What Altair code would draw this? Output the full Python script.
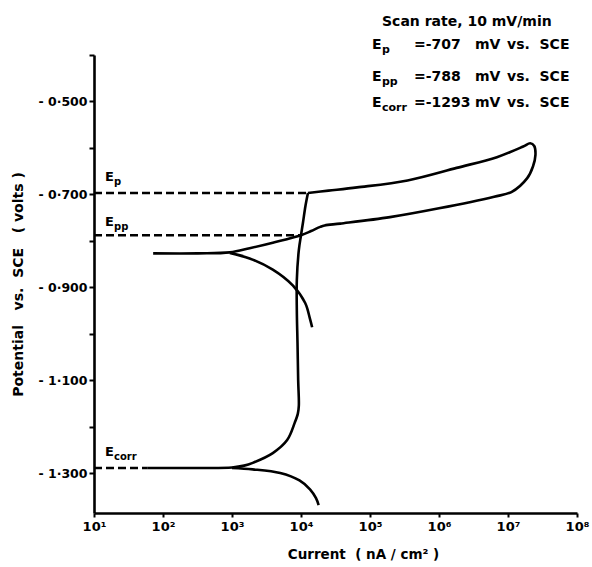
import altair as alt
import pandas as pd

FONT = "DejaVu Sans"
NB = "\u00a0"

# main curve, part 1: Ecorr -> passive region -> Ep corner
rise_current = [5.9e1, 3.2e2, 1.0e3, 1.5e3, 2.0e3, 3.9e3, 6.3e3, 8.1e3, 9.0e3, 9.3e3,
                9.1e3, 8.9e3, 8.7e3, 8.7e3, 9.3e3, 1.0e4, 1.07e4, 1.16e4, 1.26e4]
rise_potential = [-1.289, -1.289, -1.288, -1.284, -1.278, -1.257, -1.229, -1.192, -1.172, -1.155,
                  -1.100, -1.020, -0.950, -0.885, -0.820, -0.788, -0.760, -0.725, -0.697]

# main curve, part 2: Ep corner -> reversal -> Epp -> back to low current
loop_current = [1.26e4, 2.5e4, 6.5e4, 3.5e5, 1.8e6, 6.9e6, 1.66e7, 2.1e7, 2.4e7,
                2.5e7, 2.3e7, 1.9e7, 1.12e7, 6.3e6, 1.0e6, 1.95e5, 3.7e4,
                2.2e4, 1.9e4, 1.4e4, 1.0e4, 3.9e3, 1.8e3, 9.3e2, 3.2e2, 7.2e1]
loop_potential = [-0.697, -0.692, -0.685, -0.670, -0.643, -0.620, -0.597, -0.590, -0.596,
                  -0.615, -0.640, -0.665, -0.695, -0.705, -0.730, -0.749, -0.763,
                  -0.767, -0.770, -0.779, -0.788, -0.804, -0.816, -0.825, -0.827, -0.827]

# cathodic branch below the Epp region
upper_cath_current = [9.3e2, 1.8e3, 3.9e3, 7.6e3, 1.15e4, 1.35e4, 1.45e4]
upper_cath_potential = [-0.826, -0.838, -0.862, -0.896, -0.934, -0.968, -0.986]

# cathodic branch below Ecorr
lower_cath_current = [1.0e3, 2.0e3, 5.0e3, 9.5e3, 1.35e4, 1.65e4, 1.8e4]
lower_cath_potential = [-1.289, -1.292, -1.300, -1.316, -1.335, -1.354, -1.369]

# dashed reference levels (as drawn)
level_names = ["Ep", "Epp", "Ecorr"]
level_potential = [-0.697, -0.788, -1.289]
level_end_current = [1.26e4, 1.0e4, 5.9e1]
axis_start_current = 1.0e1

x_ticks = [1e1, 1e2, 1e3, 1e4, 1e5, 1e6, 1e7, 1e8]
y_ticks = [-0.4, -0.5, -0.6, -0.7, -0.8, -0.9, -1.0, -1.1, -1.2, -1.3]


def seg(cur, pot, name):
    return pd.DataFrame({"current": cur, "potential": pot, "curve": name,
                         "order": range(len(cur))})


curves = pd.concat([
    seg(rise_current, rise_potential, "rise"),
    seg(loop_current, loop_potential, "loop"),
    seg(upper_cath_current, upper_cath_potential, "upper"),
    seg(lower_cath_current, lower_cath_potential, "lower"),
])

levels = pd.DataFrame({"name": level_names, "potential": level_potential,
                       "x0": axis_start_current, "x1": level_end_current})

xscale = alt.Scale(type="log", domain=[1e1, 1e8])
yscale = alt.Scale(domain=[-1.386, -0.4])

x_axis = alt.Axis(values=x_ticks, title="Current" + NB + NB + "( nA / cm² )",
                  labelExpr="'10' + ['⁰','¹','²','³','⁴','⁵','⁶','⁷','⁸'][round(log(datum.value)/LN10)]",
                  labelFontSize=13, titleFontSize=13.5, titlePadding=14, labelPadding=3,
                  tickSize=4, labelFlush=False, titleX=269, titleAlign="center")
y_axis = alt.Axis(values=y_ticks,
                  title="Potential" + NB * 3 + "vs." + NB * 2 + "SCE" + NB * 3 + "(" + NB + "volts" + NB + ")",
                  labelExpr="abs(round(datum.value*10)) % 2 == 1 ? '-\u00a0' + replace(format(-datum.value, '.3f'), '.', '·') : ''",
                  labelFontSize=12.5, titleFontSize=14, titlePadding=12, labelPadding=2,
                  tickSize=5)

lines = alt.Chart(curves).mark_line(color="black", strokeWidth=2.6, clip=False,
                                    interpolate="catmull-rom").encode(
    x=alt.X("current:Q", scale=xscale, axis=x_axis),
    y=alt.Y("potential:Q", scale=yscale, axis=y_axis),
    detail="curve:N",
    order="order:Q",
)

dashes = alt.Chart(levels).mark_rule(color="black", strokeWidth=2.5, strokeDash=[8, 4]).encode(
    x=alt.X("x0:Q", scale=xscale),
    x2="x1:Q",
    y=alt.Y("potential:Q", scale=yscale),
)


def txt(s, x, y, size=14, align="left"):
    return alt.Chart(pd.DataFrame({"t": [s]})).mark_text(
        font=FONT, fontWeight="bold", fontSize=size, align=align, baseline="middle",
        color="black").encode(text="t:N", x=alt.value(x), y=alt.value(y))


annotations = [
    # level labels
    txt("E", 11, 122, 13), txt("p", 20, 127, 10),
    txt("E", 11, 167, 13), txt("pp", 20, 172, 10),
    txt("E", 11, 397, 13), txt("corr", 20, 402, 10),
    # top-right block
    txt("Scan rate, 10 mV/min", 288, -33),
    txt("E", 278, -10), txt("p", 288, -5, 11),
    txt("=-707", 320, -10), txt("mV", 381, -10), txt("vs." + NB + NB + "SCE", 413, -10),
    txt("E", 278, 22), txt("pp", 288, 27, 11),
    txt("=-788", 320, 22), txt("mV", 381, 22), txt("vs." + NB + NB + "SCE", 413, 22),
    txt("E", 278, 48), txt("corr", 288, 53, 11),
    txt("=-1293", 320, 48), txt("mV", 381, 48), txt("vs." + NB + NB + "SCE", 413, 48),
]

chart = alt.layer(dashes, lines, *annotations).properties(
    width=483, height=458,
    padding={"left": 94, "top": 55, "right": 15, "bottom": 54},
    autosize="none",
).configure_view(stroke=None).configure_axis(
    grid=False, domainColor="black", domainWidth=2.6, tickColor="black",
    tickWidth=2, labelColor="black", titleColor="black", labelFont=FONT,
    titleFont=FONT, labelFontWeight="bold", titleFontWeight="bold",
)

chart.save("out.html", embed_options={"renderer": "svg", "actions": False})
